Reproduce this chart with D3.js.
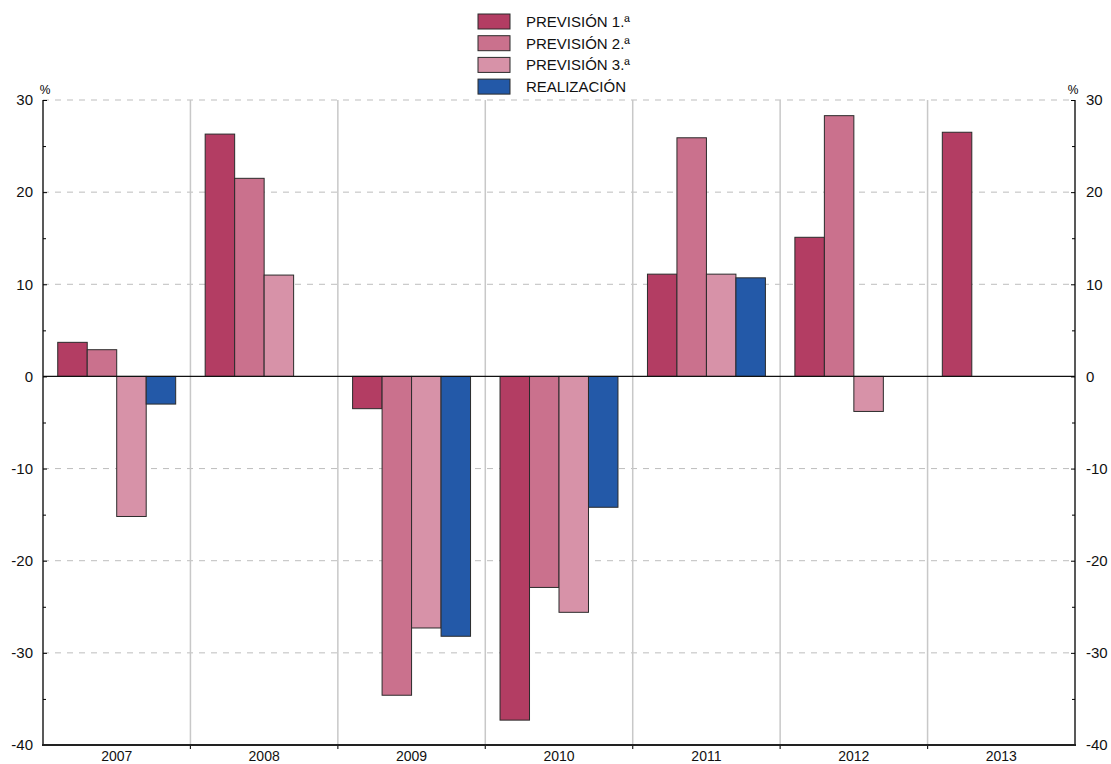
<!DOCTYPE html>
<html>
<head>
<meta charset="utf-8">
<script src="https://cdn.jsdelivr.net/npm/d3@7"></script>
<style>
  body { margin: 0; background: #fff; }
  svg { font-family: "Liberation Sans", Arial, sans-serif; }
</style>
</head>
<body>
<svg id="chart" width="1111" height="764"></svg>
<script>
var years = ["2007", "2008", "2009", "2010", "2011", "2012", "2013"];
var seriesNames = ["PREVISIÓN 1.ª", "PREVISIÓN 2.ª", "PREVISIÓN 3.ª", "REALIZACIÓN"];
var seriesColors = ["#b33d63", "#ca718d", "#d792a8", "#2359a8"];
// null = no bar
var prevision1 = [3.7, 26.3, -3.5, -37.3, 11.1, 15.1, 26.5];
var prevision2 = [2.9, 21.5, -34.6, -22.9, 25.9, 28.3, null];
var prevision3 = [-15.2, 11.0, -27.3, -25.6, 11.1, -3.8, null];
var realizacion = [-3.0, null, -28.2, -14.2, 10.7, null, null];
var yTicks = [-40, -30, -20, -10, 0, 10, 20, 30];
var yMinorTicks = [-35, -25, -15, -5, 5, 15, 25];

var allSeries = [prevision1, prevision2, prevision3, realizacion];

var margin = { top: 100, bottom: 19, left: 43, right: 36 };
var svg = d3.select("#chart");
var width = +svg.attr("width"), height = +svg.attr("height");
var innerW = width - margin.left - margin.right;
var innerH = height - margin.top - margin.bottom;

var x0 = d3.scaleBand().domain(years).range([margin.left, margin.left + innerW]).padding(0);
var x1 = d3.scaleBand().domain(d3.range(seriesNames.length))
  .range([x0.bandwidth() * 0.1, x0.bandwidth() * 0.9]).padding(0);
var y = d3.scaleLinear().domain([-40, 30]).range([margin.top + innerH, margin.top]);

var left = margin.left, right = margin.left + innerW, bottom = margin.top + innerH;
var fmt = d => String(d);  // plain hyphen minus, like the original

// dashed grid
svg.append("g")
  .selectAll("line")
  .data(yTicks.filter(d => d !== 0 && d !== -40))
  .enter().append("line")
  .attr("x1", left).attr("x2", right)
  .attr("y1", d => y(d)).attr("y2", d => y(d))
  .attr("stroke", "#bdbdbd")
  .attr("stroke-width", 1)
  .attr("stroke-dasharray", "6,6");

// group dividers
svg.append("g")
  .selectAll("line")
  .data(years.slice(1))
  .enter().append("line")
  .attr("x1", d => x0(d)).attr("x2", d => x0(d))
  .attr("y1", y(30)).attr("y2", bottom)
  .attr("stroke", "#c8c8c8")
  .attr("stroke-width", 1.5);

// bars
var barData = [];
years.forEach((yr, i) => {
  allSeries.forEach((s, j) => {
    if (s[i] != null) barData.push({ year: yr, k: j, v: s[i] });
  });
});

svg.append("g")
  .selectAll("rect")
  .data(barData)
  .enter().append("rect")
  .attr("x", d => x0(d.year) + x1(d.k))
  .attr("width", x1.bandwidth())
  .attr("y", d => y(Math.max(0, d.v)))
  .attr("height", d => Math.abs(y(d.v) - y(0)))
  .attr("fill", d => seriesColors[d.k])
  .attr("stroke", "#2b2b2b")
  .attr("stroke-width", 1);

// zero line
svg.append("line")
  .attr("x1", left).attr("x2", right)
  .attr("y1", y(0)).attr("y2", y(0))
  .attr("stroke", "#111").attr("stroke-width", 1.2);

// left axis
var leftAxis = svg.append("g")
  .attr("transform", `translate(${left},0)`)
  .call(d3.axisLeft(y).tickValues(yTicks).tickFormat(fmt).tickSize(-4).tickPadding(10))
  .call(g => g.select(".domain").attr("stroke", "#222").attr("stroke-width", 1.5).attr("d", `M0,${y(30)}V${bottom}`));
leftAxis.selectAll("text").style("font-size", "15px").attr("fill", "#111");
svg.append("g")
  .attr("transform", `translate(${left},0)`)
  .call(d3.axisLeft(y).tickValues(yMinorTicks).tickSize(-3).tickFormat(""))
  .call(g => g.select(".domain").remove());

// right axis
var rightAxis = svg.append("g")
  .attr("transform", `translate(${right},0)`)
  .call(d3.axisRight(y).tickValues(yTicks).tickFormat(fmt).tickSize(-4).tickPadding(11))
  .call(g => g.select(".domain").attr("stroke", "#222").attr("stroke-width", 1.5).attr("d", `M0,${y(30)}V${bottom}`));
rightAxis.selectAll("text").style("font-size", "15px").attr("fill", "#111");
svg.append("g")
  .attr("transform", `translate(${right},0)`)
  .call(d3.axisRight(y).tickValues(yMinorTicks).tickSize(-3).tickFormat(""))
  .call(g => g.select(".domain").remove());

// percent labels
svg.append("text").attr("x", left + 2).attr("y", y(30) - 6)
  .style("font-size", "12px").attr("text-anchor", "middle").text("%");
svg.append("text").attr("x", right - 2).attr("y", y(30) - 6)
  .style("font-size", "12px").attr("text-anchor", "middle").text("%");

// bottom axis
svg.append("line")
  .attr("x1", left - 1).attr("x2", right + 1)
  .attr("y1", bottom).attr("y2", bottom)
  .attr("stroke", "#222").attr("stroke-width", 2);
svg.append("g")
  .selectAll("line")
  .data(years.slice(1))
  .enter().append("line")
  .attr("x1", d => x0(d)).attr("x2", d => x0(d))
  .attr("y1", bottom).attr("y2", bottom + 4)
  .attr("stroke", "#222").attr("stroke-width", 1.2);
svg.append("g")
  .selectAll("text")
  .data(years)
  .enter().append("text")
  .attr("x", d => x0(d) + x0.bandwidth() / 2)
  .attr("y", bottom + 16)
  .attr("text-anchor", "middle")
  .style("font-size", "14px")
  .attr("fill", "#111")
  .text(d => d);

// legend
var legend = svg.append("g").attr("transform", "translate(478,14)");
var rows = legend.selectAll("g")
  .data(seriesNames)
  .enter().append("g")
  .attr("transform", (d, i) => `translate(0,${i * 21.7})`);
rows.append("rect")
  .attr("width", 32).attr("height", 15)
  .attr("fill", (d, i) => seriesColors[i])
  .attr("stroke", "#2b2b2b").attr("stroke-width", 1);
rows.append("text")
  .attr("x", 48).attr("y", 13)
  .style("font-size", "15px")
  .attr("fill", "#111")
  .text(d => d);
</script>
</body>
</html>
